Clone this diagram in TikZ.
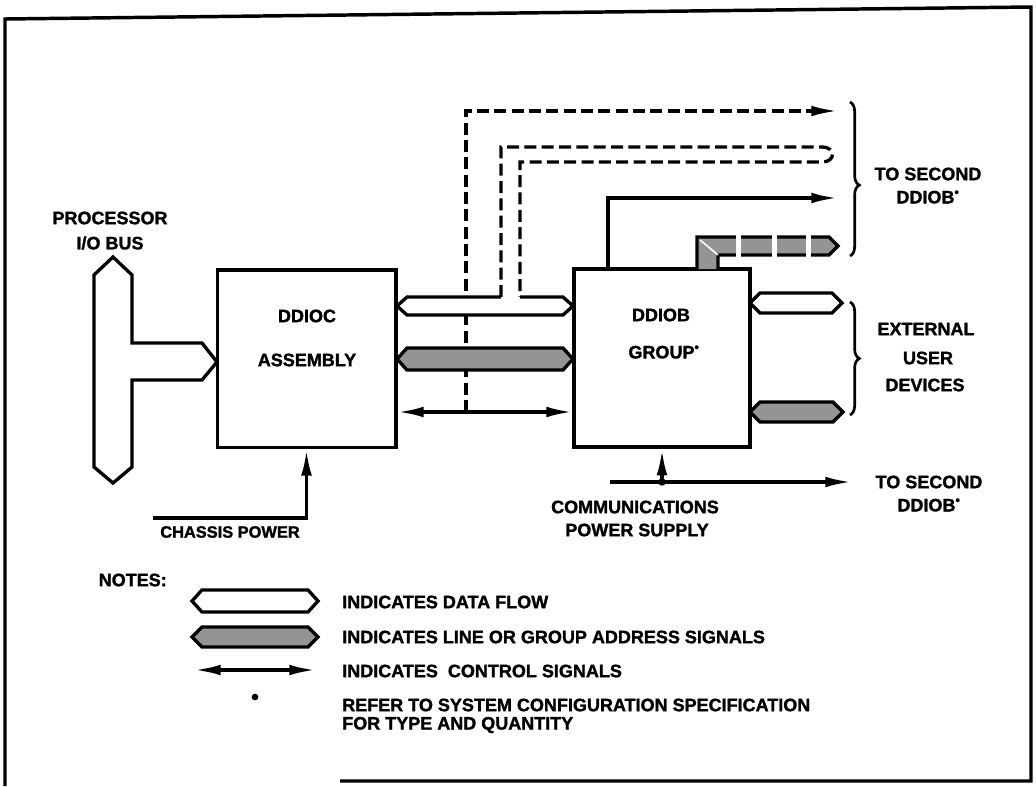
\documentclass[tikz,border=0pt]{standalone}
\usepackage{fontspec}
\setmainfont{Liberation Sans}[BoldFeatures={FakeBold=1.5}]
\usetikzlibrary{arrows.meta,decorations.pathreplacing}
\newcommand{\hbuspath}[4]{(#1,#3) -- (#1+10,#3-#4) -- (#2-10,#3-#4) -- (#2,#3) -- (#2-10,#3+#4) -- (#1+10,#3+#4) -- cycle}
\begin{document}
\begin{tikzpicture}[x=0.75pt,y=-0.75pt,line join=miter,
  every node/.style={font=\fontsize{13.5}{15}\selectfont\bfseries,inner sep=0pt},
  box/.style={draw,line width=2.5pt,fill=white},
  ctrl/.style={line width=2.6pt,-{Latex[length=20pt,width=8pt]}},
  ctrlboth/.style={line width=2.6pt,{Latex[length=20pt,width=8pt]}-{Latex[length=20pt,width=8pt]}},
  databus/.style={draw,line width=2.5pt,fill=white},
  addrbus/.style={draw,line width=2.5pt,fill=black!42},
  dashline/.style={line width=2.5pt,dash pattern=on 9pt off 4pt},
  brc/.style={decorate,line width=2pt}]
\useasboundingbox (0,0) rectangle (1036,786);
% frame
\draw[line width=2.6pt] (5,786) -- (5,19) -- (1031,7) -- (1031,781) -- (340,781);
% boxes
\node[box,minimum width=134pt,minimum height=133pt] (ddioc) at (306.5,358.5) {};
\node[box,minimum width=132pt,minimum height=133.5pt] (ddiob) at (662,358) {};
% processor bus
\draw[databus] (113,257) -- (132,275) -- (132,343) -- (202,343) -- (217,362) -- (202,380) -- (132,380) -- (132,467) -- (113,483) -- (94,467) -- (94,275) -- cycle;
% dashed control to second DDIOB
\draw[dashline,-{Latex[length=20pt,width=8pt]}] (466,412) -- (466,111) -- (838,111);
% dashed data branch
\draw[dashline] (501,297) -- (501,147) -- (822,147) .. controls (836,147) and (836,162) .. (822,162) -- (520,162) -- (520,297);
% data bus between boxes
\fill[white] \hbuspath{397}{573}{306}{9};
\draw[line width=2.5pt] (501,297) -- (407,297) -- (397,306) -- (407,315) -- (563,315) -- (573,306) -- (563,297) -- (520,297);
% address bus between boxes
\draw[addrbus] \hbuspath{397}{573}{359}{11};
% control between boxes
\draw[ctrlboth] (397,412) -- (573,412);
% control from DDIOB top
\draw[ctrl] (608,269) -- (608,198) -- (838,198);
% address bus from DDIOB top
\fill[black!42] (697,269) -- (697,237) -- (829,237) -- (838,246) -- (829,255) -- (718,255) -- (718,269) -- cycle;
\draw[line width=2.5pt] (697,269) -- (697,237) -- (829,237) -- (838,246) -- (829,255) -- (718,255) -- (718,269);
\draw[line width=1.2pt,white] (700,240) -- (718,255);
\fill[white] (736,232) rectangle (741,260);
\fill[white] (772,232) rectangle (777,260);
\fill[white] (806,232) rectangle (811,260);
% right buses
\draw[databus] \hbuspath{750}{842}{303}{10};
\draw[addrbus] \hbuspath{750}{843}{412}{10};
% braces
\draw[brc,decoration={brace,amplitude=7pt,aspect=0.54}] (850,102) -- (850,256);
\draw[brc,decoration={brace,amplitude=7pt,aspect=0.5}] (850,302) -- (850,415);
% communications power
\coordinate (j) at (662,482);
\coordinate (cs) at (610,482);
\coordinate (ce) at (852,482);
\draw[ctrl] (cs) -- (ce);
\draw[ctrl] (j) -- (ddiob.south);
\fill (j) circle (2.8pt);
% chassis power
\coordinate (c0) at (153,518);
\coordinate (c1) at (306.5,518);
\draw[ctrl] (c0) -- (c1) -- (ddioc.south);
% texts
\node at (307,316) {DDIOC};
\node at (307,360) {ASSEMBLY};
\node at (661,315) {DDIOB};
\node at (664,352) {GROUP\textsuperscript{\textbullet}};
\node at (110,218) {PROCESSOR};
\node at (110,243) {I/O BUS};
\node at (928,174) {TO SECOND};
\node at (928,197) {DDIOB\textsuperscript{\textbullet}};
\node at (926,329) {EXTERNAL};
\node at (928,358) {USER};
\node at (925,385) {DEVICES};
\node at (929,482) {TO SECOND};
\node at (929,505) {DDIOB\textsuperscript{\textbullet}};
\node at (635,507) {COMMUNICATIONS};
\node at (637,530) {POWER SUPPLY};
\node[font=\fontsize{12.3}{14}\selectfont\bfseries] at (230,532) {CHASSIS POWER};
\node[anchor=east] at (167,580) {NOTES:};
% legend
\draw[databus] \hbuspath{192}{318}{601}{11};
\draw[addrbus] \hbuspath{192}{318}{637}{10};
\coordinate (l0) at (194,670);
\coordinate (l1) at (316,670);
\draw[ctrlboth] (l0) -- (l1);
\fill (255,697) circle (2.5pt);
\node[anchor=west] at (342,602) {INDICATES DATA FLOW};
\node[anchor=west] at (342,637) {INDICATES LINE OR GROUP ADDRESS SIGNALS};
\node[anchor=west] at (342,671) {INDICATES\ \ CONTROL SIGNALS};
\node[anchor=west] at (342,705) {REFER TO SYSTEM CONFIGURATION SPECIFICATION};
\node[anchor=west] at (342,725) {FOR TYPE AND QUANTITY};
\end{tikzpicture}
\end{document}
